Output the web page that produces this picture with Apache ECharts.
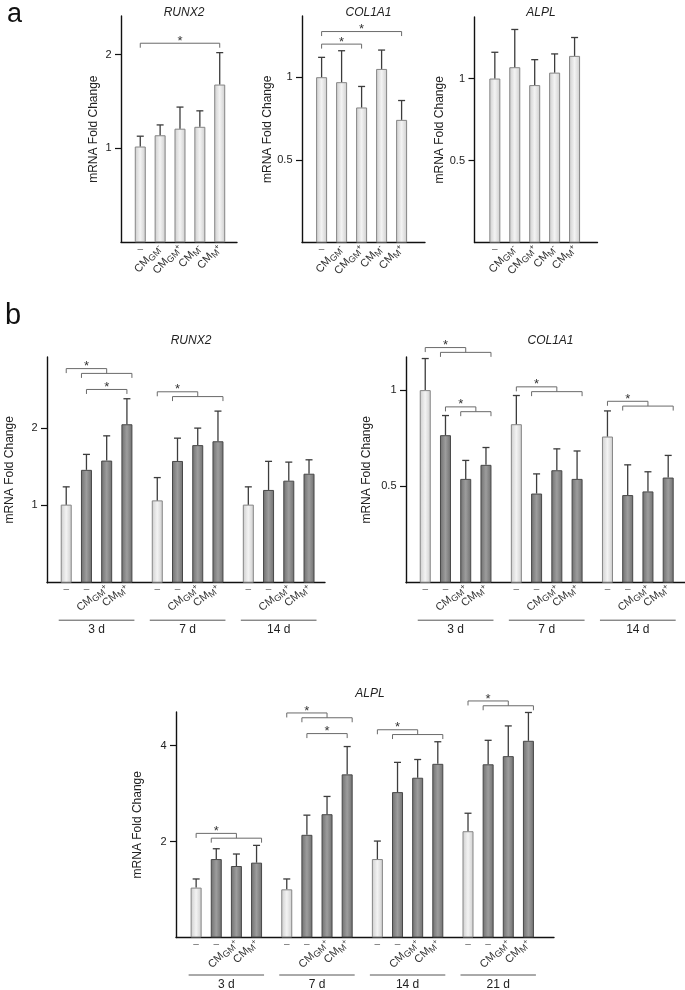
<!DOCTYPE html>
<html><head><meta charset="utf-8">
<script src="https://cdn.jsdelivr.net/npm/echarts@6/dist/echarts.min.js"></script>
<style>html,body{margin:0;padding:0;background:#fff}#c{width:685px;height:990px}</style>
</head><body><div id="c"></div>
<script>
// ---------------- DATA ----------------
const aLabels = ['–', 'CMGM-', 'CMGM+', 'CMM-', 'CMM+'];
const aRunx2Mean = [1.02, 1.14, 1.21, 1.23, 1.68];
const aRunx2Sd   = [0.11, 0.11, 0.23, 0.17, 0.34];
const aCol1a1Mean = [1.00, 0.97, 0.817, 1.05, 0.742];
const aCol1a1Sd   = [0.12, 0.19, 0.127, 0.114, 0.117];
const aAlplMean = [1.00, 1.069, 0.96, 1.036, 1.138];
const aAlplSd   = [0.16, 0.23, 0.155, 0.114, 0.112];

const bLabels = ['–', '–', 'CMGM+', 'CMM+'];
const bDays3 = ['3 d', '7 d', '14 d'];
const bDays4 = ['3 d', '7 d', '14 d', '21 d'];
const bRunx2Mean = [[1.01, 1.46, 1.58, 2.05], [1.065, 1.575, 1.78, 1.83], [1.01, 1.20, 1.32, 1.41]];
const bRunx2Sd   = [[0.23, 0.20, 0.32, 0.33], [0.295, 0.295, 0.22, 0.39], [0.23, 0.37, 0.24, 0.18]];
const bCol1a1Mean = [[1.00, 0.766, 0.539, 0.612], [0.823, 0.463, 0.584, 0.539], [0.759, 0.455, 0.474, 0.546]];
const bCol1a1Sd   = [[0.164, 0.102, 0.096, 0.09], [0.149, 0.102, 0.111, 0.145], [0.133, 0.157, 0.102, 0.115]];
const bAlplMean = [[1.04, 1.635, 1.49, 1.56], [1.004, 2.14, 2.57, 3.40], [1.635, 3.03, 3.33, 3.62], [2.215, 3.61, 3.78, 4.10]];
const bAlplSd   = [[0.18, 0.215, 0.25, 0.36], [0.216, 0.41, 0.37, 0.58], [0.375, 0.62, 0.38, 0.46], [0.375, 0.50, 0.63, 0.59]];

// significance brackets: simple [group, barA, barB, level]; compound [group, ctrl, from, to, level]
const aRunx2Simple = [[0, 0, 4, 2.12]];
const aCol1a1Simple = [[0, 0, 4, 1.276], [0, 0, 2, 1.20]];
const bRunx2Simple = [[0, 1, 3, 2.50]];
const bRunx2Compound = [[0, 0, 1, 3, 2.77], [1, 0, 1, 3, 2.47]];
const bCol1a1Compound = [[0, 0, 1, 3, 1.221], [0, 1, 2, 3, 0.913], [1, 0, 1, 3, 1.017], [2, 0, 1, 3, 0.942]];
const bAlplSimple = [[1, 1, 3, 4.25]];
const bAlplCompound = [[0, 0, 1, 3, 2.17], [1, 0, 1, 3, 4.68], [2, 0, 1, 3, 4.33], [3, 0, 1, 3, 4.93]];

// ---------------- STYLE / LAYOUT ----------------
const FONT = '"Liberation Sans", Arial, Helvetica, sans-serif';
const GROUP_STRIDE = 4.5;
function pos(g, i) { return g * GROUP_STRIDE + i; }

const LIGHT = {
  color: {type: 'linear', x: 0, y: 0, x2: 1, y2: 0, colorStops: [
    {offset: 0, color: '#cdcdcd'}, {offset: 0.5, color: '#f3f3f3'}, {offset: 1, color: '#cdcdcd'}]},
  borderColor: '#858585', borderWidth: 1
};
const DARK = {
  color: {type: 'linear', x: 0, y: 0, x2: 1, y2: 0, colorStops: [
    {offset: 0, color: '#6f6f6f'}, {offset: 0.5, color: '#9d9d9d'}, {offset: 1, color: '#6f6f6f'}]},
  borderColor: '#484848', borderWidth: 1
};

const panels = [
  {title: 'RUNX2', grid: {left: 121, top: 16, width: 116, height: 226.3}, xMin: -0.97, xMax: 4.87, yMax: 2.41, yTicks: [1, 2], nameGap: 21, rot: 48, titleTop: 2,
   labels: aLabels, means: [aRunx2Mean], sds: [aRunx2Sd], allLight: true, simple: aRunx2Simple, compound: [], days: null},
  {title: 'COL1A1', grid: {left: 302, top: 16, width: 123, height: 226.6}, xMin: -0.98, xMax: 5.17, yMax: 1.37, yTicks: [0.5, 1], nameGap: 27, rot: 48, titleTop: 2,
   labels: aLabels, means: [aCol1a1Mean], sds: [aCol1a1Sd], allLight: true, simple: aCol1a1Simple, compound: [], days: null},
  {title: 'ALPL', grid: {left: 474.5, top: 17, width: 123, height: 225.6}, xMin: -1.02, xMax: 5.15, yMax: 1.375, yTicks: [0.5, 1], nameGap: 23, rot: 48, titleTop: 2,
   labels: aLabels, means: [aAlplMean], sds: [aAlplSd], allLight: true, simple: [], compound: [], days: null},
  {title: 'RUNX2', grid: {left: 47, top: 357, width: 278, height: 225.7}, xMin: -0.95, xMax: 12.79, yMax: 2.92, yTicks: [1, 2], nameGap: 31, rot: 40, titleTop: 330,
   labels: bLabels, means: bRunx2Mean, sds: bRunx2Sd, allLight: false, simple: bRunx2Simple, compound: bRunx2Compound, days: bDays3},
  {title: 'COL1A1', grid: {left: 406, top: 357, width: 279, height: 225.7}, xMin: -0.95, xMax: 12.83, yMax: 1.172, yTicks: [0.5, 1], nameGap: 33, rot: 40, titleTop: 330,
   labels: bLabels, means: bCol1a1Mean, sds: bCol1a1Sd, allLight: false, simple: [], compound: bCol1a1Compound, days: bDays3},
  {title: 'ALPL', grid: {left: 176, top: 712, width: 378, height: 225.5}, xMin: -1.0, xMax: 17.77, yMax: 4.7, yTicks: [2, 4], nameGap: 32.5, rot: 45, titleTop: 683,
   labels: bLabels, means: bAlplMean, sds: bAlplSd, allLight: false, simple: bAlplSimple, compound: bAlplCompound, days: bDays4}
];

function richLabel(s) {
  const m = s.match(/^CM(GM|M)([+-])$/);
  if (!m) return s;
  return '{m|CM}{s|' + m[1] + '}{p|' + m[2] + '}';
}
const RICH = {
  m: {fontSize: 11, lineHeight: 13, verticalAlign: 'bottom', padding: [0, 0, 2, 0], color: '#333', fontFamily: FONT},
  s: {fontSize: 9, lineHeight: 10, verticalAlign: 'bottom', padding: [0, 0, 0, 0], color: '#333', fontFamily: FONT},
  p: {fontSize: 8, lineHeight: 9, verticalAlign: 'bottom', padding: [0, 0, 4, 0], color: '#333', fontFamily: FONT}
};

const LINE = {stroke: '#6a6a6a', lineWidth: 1, fill: null};

function renderErr(params, api) {
  const x = api.value(0), m = api.value(1), s = api.value(2);
  const b = api.coord([x, m]), t = api.coord([x, m + s]);
  const st = {stroke: '#3c3c3c', lineWidth: 1.3};
  return {type: 'group', children: [
    {type: 'line', shape: {x1: b[0], y1: b[1], x2: t[0], y2: t[1]}, style: st},
    {type: 'line', shape: {x1: t[0] - 3.5, y1: t[1], x2: t[0] + 3.5, y2: t[1]}, style: st}
  ]};
}
function star(x, y) {
  return {type: 'text', style: {text: '*', x: x, y: y - 2, align: 'center', verticalAlign: 'middle', font: '13px ' + FONT, fill: '#333'}};
}
function renderSimple(params, api) {
  const a = api.coord([api.value(0), api.value(2)]);
  const b = api.coord([api.value(1), api.value(2)]);
  const y = a[1], leg = 4.5;
  return {type: 'group', children: [
    {type: 'polyline', shape: {points: [[a[0], y + leg], [a[0], y], [b[0], y], [b[0], y + leg]]}, style: LINE},
    star((a[0] + b[0]) / 2, y)
  ]};
}
function renderCompound(params, api) {
  const lv = api.value(3);
  const c = api.coord([api.value(0), lv]);
  const f = api.coord([api.value(1), lv]);
  const t = api.coord([api.value(2), lv]);
  const y = c[1], y2 = y + 4.8, leg = 4.5;
  const fx = f[0] - 5, tx = t[0] + 5, mid = (fx + tx) / 2;
  return {type: 'group', children: [
    {type: 'polyline', shape: {points: [[c[0], y + leg], [c[0], y], [mid, y], [mid, y2]]}, style: LINE},
    {type: 'polyline', shape: {points: [[fx, y2 + leg], [fx, y2], [tx, y2], [tx, y2 + leg]]}, style: LINE},
    star((c[0] + mid) / 2, y)
  ]};
}
function makeRenderDay(days) {
  return function (params, api) {
    const s = api.coord([api.value(0), 0]), e = api.coord([api.value(1), 0]);
    const y = s[1];
    return {type: 'group', children: [
      {type: 'line', shape: {x1: s[0] - 7.5, y1: y + 37.5, x2: e[0] + 7.5, y2: y + 37.5}, style: {stroke: '#555', lineWidth: 1}},
      {type: 'text', style: {text: days[params.dataIndex], x: (s[0] + e[0]) / 2, y: y + 47, align: 'center', verticalAlign: 'middle', font: '12px ' + FONT, fill: '#222'}}
    ]};
  };
}

const option = {
  animation: false, backgroundColor: '#fff', textStyle: {fontFamily: FONT},
  title: [
    {text: 'a', left: 2, top: -4, textStyle: {fontSize: 27, fontWeight: 'normal', color: '#111', fontFamily: FONT}},
    {text: 'b', left: 0, top: 296, textStyle: {fontSize: 29, fontWeight: 'normal', color: '#111', fontFamily: FONT}}
  ],
  grid: [], xAxis: [], yAxis: [], series: []
};

panels.forEach(function (p, k) {
  option.grid.push(p.grid);
  option.title.push({text: p.title, left: p.grid.left + p.grid.width / 2, top: p.titleTop, textAlign: 'center',
    textStyle: {fontSize: 12, fontStyle: 'italic', fontWeight: 'normal', color: '#222', fontFamily: FONT}});
  const dashPos = [], cmPos = [], labelMap = {}, bars = [], errs = [];
  p.means.forEach(function (grp, g) {
    grp.forEach(function (v, i) {
      const x = pos(g, i);
      const lab = p.labels[i];
      if (lab === '–') dashPos.push(x); else cmPos.push(x);
      labelMap[x.toFixed(2)] = lab;
      bars.push({value: [x, v], itemStyle: (p.allLight || i === 0) ? LIGHT : DARK});
      errs.push([x, v, p.sds[g][i]]);
    });
  });
  const xi = option.xAxis.length;
  option.xAxis.push({
    gridIndex: k, type: 'value', position: 'bottom', min: p.xMin, max: p.xMax,
    axisLine: {show: true, onZero: false, lineStyle: {color: '#111', width: 1.4}},
    axisTick: {show: false}, splitLine: {show: false},
    axisLabel: {customValues: dashPos, formatter: function () { return '–'; }, fontSize: 10, color: '#666', margin: 2, fontFamily: FONT}
  });
  option.xAxis.push({
    gridIndex: k, type: 'value', position: 'bottom', min: p.xMin, max: p.xMax,
    axisLine: {show: false, onZero: false}, axisTick: {show: false}, splitLine: {show: false},
    axisLabel: {customValues: cmPos, rotate: p.rot, margin: 4, fontFamily: FONT,
      formatter: function (v) { return richLabel(labelMap[Number(v).toFixed(2)] || ''); }, rich: RICH}
  });
  option.yAxis.push({
    gridIndex: k, type: 'value', position: 'left', min: 0, max: p.yMax,
    axisLine: {show: true, onZero: false, lineStyle: {color: '#111', width: 1.4}},
    axisTick: {show: true, inside: false, length: 6, customValues: p.yTicks, lineStyle: {color: '#111', width: 1.2}},
    axisLabel: {customValues: p.yTicks, fontSize: 11, color: '#222', margin: 9.5, fontFamily: FONT},
    splitLine: {show: false},
    name: 'mRNA Fold Change', nameLocation: 'middle', nameGap: p.nameGap,
    nameTextStyle: {fontSize: 12, color: '#222', fontFamily: FONT}
  });
  option.series.push({type: 'bar', xAxisIndex: xi, yAxisIndex: k, barWidth: 11, data: bars, silent: true, z: 2});
  option.series.push({type: 'custom', xAxisIndex: xi, yAxisIndex: k, data: errs, renderItem: renderErr, silent: true, z: 3,
    encode: {x: 0, y: [1, 2]}});
  if (p.simple.length) {
    option.series.push({type: 'custom', xAxisIndex: xi, yAxisIndex: k, silent: true, z: 3, encode: {x: [0, 1], y: 2},
      data: p.simple.map(function (s) { return [pos(s[0], s[1]), pos(s[0], s[2]), s[3]]; }), renderItem: renderSimple});
  }
  if (p.compound.length) {
    option.series.push({type: 'custom', xAxisIndex: xi, yAxisIndex: k, silent: true, z: 3, encode: {x: [0, 1, 2], y: 3},
      data: p.compound.map(function (s) { return [pos(s[0], s[1]), pos(s[0], s[2]), pos(s[0], s[3]), s[4]]; }), renderItem: renderCompound});
  }
  if (p.days) {
    option.series.push({type: 'custom', xAxisIndex: xi, yAxisIndex: k, silent: true, z: 3, encode: {x: [0, 1]},
      data: p.days.map(function (d, g) { return [pos(g, 0), pos(g, p.labels.length - 1)]; }), renderItem: makeRenderDay(p.days)});
  }
});

const chart = echarts.init(document.getElementById('c'), null, {renderer: 'canvas'});
chart.setOption(option);
</script>
</body></html>
